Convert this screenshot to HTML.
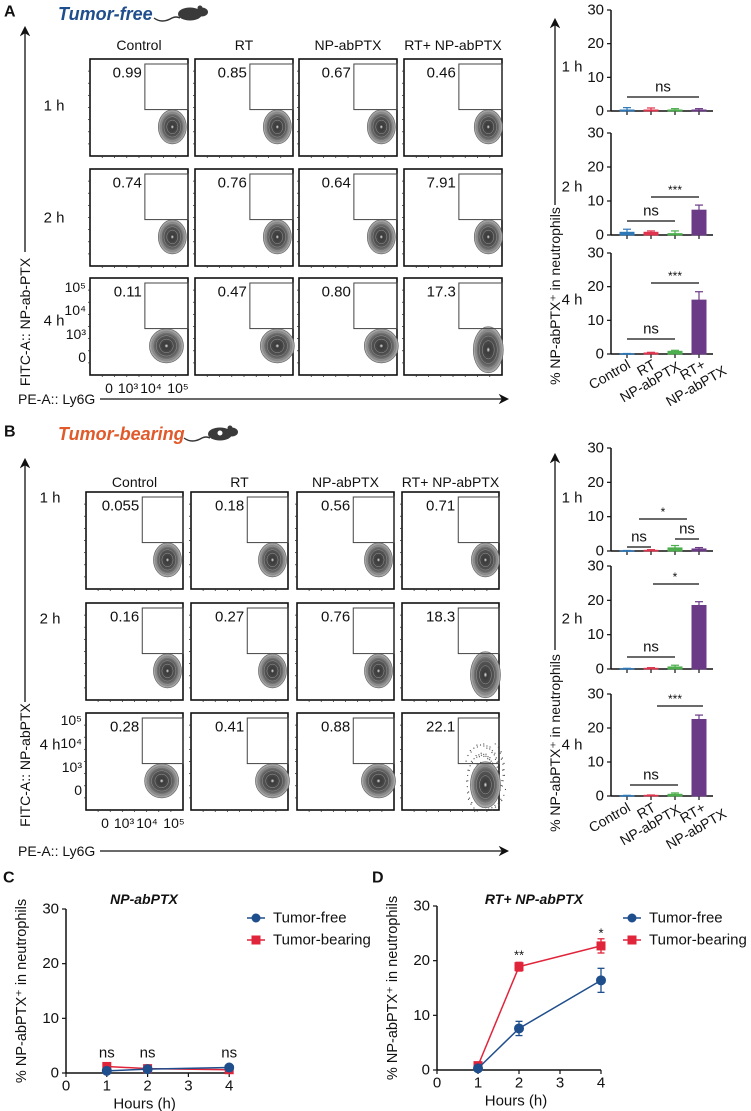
<!DOCTYPE html>
<html><head><meta charset="utf-8"><style>
html,body{margin:0;padding:0;background:#fff;}
svg{display:block;font-family:"Liberation Sans",Arial,sans-serif;}
</style></head><body>
<svg id="fig" width="751" height="1111" viewBox="0 0 751 1111" xmlns="http://www.w3.org/2000/svg">
<defs>
<marker id="arr" viewBox="0 0 10 10" refX="8" refY="5" markerWidth="8" markerHeight="8" orient="auto"><path d="M0,0 L10,5 L0,10 L3,5 z" fill="#111"/></marker>
<radialGradient id="cg" cx="0.5" cy="0.5" r="0.5"><stop offset="0" stop-color="#eee"/><stop offset="0.12" stop-color="#3a3a3a"/><stop offset="0.6" stop-color="#555"/><stop offset="0.85" stop-color="#888"/><stop offset="1" stop-color="#bbb"/></radialGradient>
</defs>
<g id="root"></g>
</svg>
<script>
// ---------- data ----------
const groups = ["Control","RT","NP-abPTX","RT+ NP-abPTX"];
const timeRows = ["1 h","2 h","4 h"];
const flowA = [["0.99","0.85","0.67","0.46"],["0.74","0.76","0.64","7.91"],["0.11","0.47","0.80","17.3"]];
const flowB = [["0.055","0.18","0.56","0.71"],["0.16","0.27","0.76","18.3"],["0.28","0.41","0.88","22.1"]];
const barColors = ["#2f78b7","#e0344e","#4cae4c","#6b3a87"];
const barsA_mean = [[0.3,0.3,0.3,0.3],[0.8,0.8,0.4,7.3],[0.05,0.3,0.8,16.0]];
const barsA_err  = [[0.7,0.6,0.4,0.4],[0.9,0.4,0.8,1.5],[0.1,0.2,0.3,2.5]];
const barsB_mean = [[0.05,0.2,0.9,0.6],[0.1,0.2,0.6,18.5],[0.1,0.2,0.5,22.5]];
const barsB_err  = [[0.1,0.2,0.7,0.4],[0.1,0.2,0.5,1.1],[0.1,0.1,0.4,1.3]];
const barTicks = [0,10,20,30];
const hours = [1,2,4];
const xTicks = [0,1,2,3,4];
const yTicks = [0,10,20,30];
const C_free = [0.4,0.7,1.0], C_free_err=[0.2,0.2,0.3];
const C_bear = [1.2,0.8,0.6], C_bear_err=[0.3,0.2,0.2];
const D_free = [0.3,7.6,16.4], D_free_err=[0.3,1.3,2.2];
const D_bear = [0.8,18.9,22.7], D_bear_err=[0.3,0.8,1.3];

const NS="http://www.w3.org/2000/svg";
const root=document.getElementById('root');
function mk(tag,attrs,parent,txt){const e=document.createElementNS(NS,tag);for(const k in attrs)e.setAttribute(k,attrs[k]);if(txt!==undefined)e.textContent=txt;(parent||root).appendChild(e);return e;}
function G(name,parent){const g=mk('g',{},parent);


return g;}
function T(x,y,s,opt,parent){opt=opt||{};const t=mk('text',{x:x,y:y,'font-size':opt.fs||14,'text-anchor':opt.a||'start',fill:opt.fill||'#111','font-weight':opt.fw||'normal','font-style':opt.fst||'normal','dominant-baseline':'central'},parent,s);if(opt.rot)t.setAttribute('transform',`rotate(${opt.rot} ${x} ${y})`);


return t;}
function L(x1,y1,x2,y2,parent,st,w,extra){const l=mk('line',{x1,y1,x2,y2,stroke:st||'#111','stroke-width':w||1.2},parent);if(extra)for(const k in extra)l.setAttribute(k,extra[k]);return l;}

function mouse(x,y,parent,spot){const g=G('mouse-icon',parent);
mk('path',{d:`M${x},${y+4} q8,6 18,0 q4,-2 8,0`,stroke:'#333',fill:'none','stroke-width':1.4},g);
mk('ellipse',{cx:x+36,cy:y,rx:12,ry:6.5,fill:'#3a3a3a'},g);
mk('ellipse',{cx:x+48,cy:y-2,rx:6,ry:4.5,fill:'#3a3a3a'},g);
mk('circle',{cx:x+46,cy:y-6,r:2.5,fill:'#3a3a3a'},g);
if(spot)mk('circle',{cx:x+36,cy:y-1,r:2.5,fill:'#fff'},g);}

// ---------- flow panels ----------
function flowPanel(P){
 const g=G(P.name);
 T(4,P.labelY,P.letter,{fs:16,fw:'bold',name:'panel-letter'},g);
 T(P.titleX,P.labelY+2,P.title,{fs:18,fw:'bold',fst:'italic',fill:P.titleColor,name:'group-title'},g);
 mouse(P.titleX+P.titleW+6,P.labelY+2,g,P.spot);
 L(25,P.yArrowBot,25,P.yArrowTop,g,'#111',1.3,{'marker-end':'url(#arr)'});
 T(25,P.yTextC,P.ylab,{fs:14,a:'middle',rot:-90,name:'flow-y-axis-title'},g);
 T(18,P.xArrowY,'PE-A:: Ly6G',{fs:14,name:'flow-x-axis-title'},g);
 L(100,P.xArrowY,507,P.xArrowY,g,'#111',1.3,{'marker-end':'url(#arr)'});
 groups.forEach((c,j)=>T(P.xs[j]+P.w/2,P.headY,c,{fs:14,a:'middle',name:'column-header'},g));
 timeRows.forEach((r,i)=>T(P.rowLabX,P.ys[i]+P.rowLabOff[i],r,{fs:15,a:'middle',name:'row-label'},g));
 P.vals.forEach((row,i)=>row.forEach((v,j)=>{
  const x=P.xs[j],y=P.ys[i],w=P.w,h=P.h;
  const b=G('flow-plot',g);
  mk('rect',{x,y,width:w,height:h,fill:'#fff',stroke:'#111','stroke-width':1.6},b);
  for(let k=1;k<8;k++){L(x,y+k*h/8,x-2,y+k*h/8,b,'#333',0.8);L(x+k*w/8,y+h,x+k*w/8,y+h+2,b,'#333',0.8);}
  const big=(i==2&&j==3)||(i==1&&j==3&&P.letter=='B');
  const cx=x+w*(j==3?0.86:(i==2&&j==0?0.78:0.84)), cy=y+h*(big?0.74:0.7);
  const rx=big?15:(i==2&&j<=2?17:14), ry=big?23:17;
  if(big&&P.letter=='B'&&i==2){for(let k=0;k<260;k++){const a=(k*137.5)%360*Math.PI/180,rr=((k*7)%19)/19;mk('circle',{cx:cx+Math.cos(a)*rx*1.5*rr,cy:cy-8+Math.sin(a)*ry*1.7*rr,r:0.6,fill:'#444'},b);}}
  mk('ellipse',{cx,cy,rx,ry,fill:'url(#cg)',stroke:'#666','stroke-width':0.7},b);
  for(let k=1;k<4;k++)mk('ellipse',{cx,cy,rx:rx*(1-k*0.2),ry:ry*(1-k*0.2),fill:'none',stroke:'#999','stroke-width':0.5},b);
  // gate
  const gx=x+w*P.gateL, gy=y+5, gh=h*0.47;
  mk('rect',{x:gx,y:gy,width:x+w-gx,height:gh,fill:'none',stroke:'#444','stroke-width':1},b);
  T(gx-3,y+14,v,{fs:15,a:'end',name:'gate-percentage'},b);
 }));
 const x0=P.xs[0], y2=P.ys[2];
 ['10⁵','10⁴','10³','0'].forEach((s,k)=>T(x0-4,y2+P.yTickOff[k],s,{fs:14,a:'end',name:'flow-y-tick'},g));
 ['0','10³','10⁴','10⁵'].forEach((s,k)=>T(x0+[19,38,61,88][k],P.ys[2]+P.h+13,s,{fs:14,a:'middle',name:'flow-x-tick'},g));
}
flowPanel({name:'panel-a-flow',letter:'A',labelY:12,title:'Tumor-free',titleX:58,titleW:90,titleColor:'#1f4e8c',spot:false,
 ylab:'FITC-A:: NP-ab-PTX',yArrowTop:28,yArrowBot:252,yTextC:322,xArrowY:399,
 xs:[90,195,299,404],ys:[59,169,278],w:98,h:97,headY:45,rowLabX:54,rowLabOff:[47,49,43],gateL:0.56,vals:flowA,yTickOff:[9,32,56,79]});
flowPanel({name:'panel-b-flow',letter:'B',labelY:432,title:'Tumor-bearing',titleX:58,titleW:120,titleColor:'#e05a2b',spot:true,
 ylab:'FITC-A:: NP-abPTX',yArrowTop:460,yArrowBot:702,yTextC:765,xArrowY:851,
 xs:[86,191,297,402],ys:[492,603,713],w:97,h:97,headY:482,rowLabX:50,rowLabOff:[6,16,32],gateL:0.58,vals:flowB,yTickOff:[7,30,54,77]});

// ---------- bar charts ----------
const barX = i => 627 + i*24;
function barChart(top,bottom,means,errs,sig,parent){
 const g=G('bar-chart',parent);
 const ys=v=>bottom-(v/30)*(bottom-top);
 L(611,top,611,bottom,g,'#111',1.5);L(611,bottom,713,bottom,g,'#111',1.5);
 barTicks.forEach(t=>{L(607,ys(t),611,ys(t),g,'#111',1.2);T(604,ys(t),String(t),{fs:15,a:'end',name:'bar-y-tick'},g);});
 means.forEach((m,i)=>{const x=barX(i);L(x,bottom,x,bottom+4,g,'#111',1.2);
  const r=mk('rect',{x:x-7,y:ys(m),width:14,height:Math.max(bottom-ys(m),0.5),fill:barColors[i],stroke:barColors[i]},g);
  
  
  const e=ys(m+errs[i]);L(x,ys(m),x,e,g,barColors[i],1.2);L(x-4,e,x+4,e,g,barColors[i],1.2);});
 sig.forEach(s=>{L(barX(s[0])+(s[3]||0),bottom-s[2],barX(s[1])+(s[4]||0),bottom-s[2],g,'#111',1.2);
  T((barX(s[0])+barX(s[1]))/2,bottom-s[2]-(s[5]=='ns'?10:7),s[5],{fs:s[5]=='ns'?15:12,a:'middle',name:'significance-label'},g);});
}
const gA=G('panel-a-bars');
barChart(10,111,barsA_mean[0],barsA_err[0],[[0,3,14,0,0,'ns']],gA);
barChart(133,235,barsA_mean[1],barsA_err[1],[[1,3,38,0,0,'***'],[0,2,14,0,0,'ns']],gA);
barChart(253,354,barsA_mean[2],barsA_err[2],[[1,3,71,0,0,'***'],[0,2,15,0,0,'ns']],gA);
L(555,205,555,20,gA,'#111',1.3,{'marker-end':'url(#arr)'});
T(555,296,'% NP-abPTX⁺ in neutrophils',{fs:14,a:'middle',rot:-90,name:'bar-y-axis-title'},gA);
[['1 h',67],['2 h',187],['4 h',300]].forEach(r=>T(572,r[1],r[0],{fs:15,a:'middle',name:'row-label'},gA));
const gB=G('panel-b-bars');
barChart(448,551,barsB_mean[0],barsB_err[0],[[0,3,32,12,-12,'*'],[0,1,4,0,0,'ns'],[2,3,12,0,0,'ns']],gB);
barChart(566,669,barsB_mean[1],barsB_err[1],[[1,3,85,2,0,'*'],[0,2,12,0,0,'ns']],gB);
barChart(694,796,barsB_mean[2],barsB_err[2],[[1,3,90,6,4,'***'],[0,2,11,3,3,'ns']],gB);
L(555,650,555,455,gB,'#111',1.3,{'marker-end':'url(#arr)'});
T(555,743,'% NP-abPTX⁺ in neutrophils',{fs:14,a:'middle',rot:-90,name:'bar-y-axis-title'},gB);
[['1 h',498],['2 h',619],['4 h',745]].forEach(r=>T(572,r[1],r[0],{fs:15,a:'middle',name:'row-label'},gB));
function catLabels(y,parent){
 const g=G('bar-x-labels',parent);
 T(barX(0)+2,y,'Control',{fs:14,a:'end',rot:-30,name:'category-label'},g);
 T(barX(1)+3,y,'RT',{fs:14,a:'end',rot:-30,name:'category-label'},g);
 T(barX(2)+4,y+2,'NP-abPTX',{fs:14,a:'end',rot:-30,name:'category-label'},g);
 T(barX(3)+5,y,'RT+',{fs:14,a:'end',rot:-30,name:'category-label'},g);
 T(barX(3)+26,y+6,'NP-abPTX',{fs:14,a:'end',rot:-30,name:'category-label'},g);
}
catLabels(363,gA);catLabels(806,gB);

// ---------- line charts ----------
function lineChart(P){
 const g=G(P.name);
 const xs=v=>P.x0+v*P.ux, ys=v=>P.y0-(v/30)*(P.y0-P.y30);
 T(P.letterX,878,P.letter,{fs:16,fw:'bold',name:'panel-letter'},g);
 T(P.titleX,899,P.title,{fs:14,fw:'bold',fst:'italic',a:'middle',name:'chart-title'},g);
 L(P.x0,P.y30,P.x0,P.y0,g,'#111',1.5);L(P.x0,P.y0,xs(4),P.y0,g,'#111',1.5);
 yTicks.forEach(t=>{L(P.x0-4,ys(t),P.x0,ys(t),g,'#111',1.2);T(P.x0-7,ys(t),String(t),{fs:15,a:'end',name:'y-tick'},g);});
 xTicks.forEach(t=>{L(xs(t),P.y0,xs(t),P.y0+4,g,'#111',1.2);T(xs(t),P.y0+13,String(t),{fs:15,a:'middle',name:'x-tick'},g);});
 T(xs(2)-3,P.y0+31,'Hours (h)',{fs:15,a:'middle',name:'x-axis-title'},g);
 T(P.x0-44,(P.y0+P.y30)/2,'% NP-abPTX⁺ in neutrophils',{fs:14.5,a:'middle',rot:-90,name:'y-axis-title'},g);
 const series=[[P.free,P.freeErr,'#1f4e8c','circle','tumor-free'],[P.bear,P.bearErr,'#e0243a','square','tumor-bearing']];
 series.slice().reverse().forEach(s=>{
  const sg=G('series-'+s[4],g);
  const pts=hours.map((h,i)=>xs(h)+','+ys(s[0][i])).join(' ');
  mk('polyline',{points:pts,fill:'none',stroke:s[2],'stroke-width':1.5},sg);
  hours.forEach((h,i)=>{const x=xs(h),y=ys(s[0][i]),e1=ys(s[0][i]+s[1][i]),e2=ys(s[0][i]-s[1][i]);
   L(x,e1,x,e2,sg,s[2],1.3);L(x-3.5,e1,x+3.5,e1,sg,s[2],1.3);L(x-3.5,e2,x+3.5,e2,sg,s[2],1.3);
   if(s[3]=='circle')mk('circle',{cx:x,cy:y,r:5,fill:s[2]},sg);else mk('rect',{x:x-4.5,y:y-4.5,width:9,height:9,fill:s[2]},sg);});
 });
 P.sig.forEach((s,i)=>{if(s)T(xs(hours[i]),P.sigY[i],s,{fs:s=='ns'?15:13,a:'middle',name:'significance-label'},g);});
 const lg=G('legend',g);
 [['Tumor-free','#1f4e8c','circle',918],['Tumor-bearing','#e0243a','square',940]].forEach(e=>{
  const eg=G('legend-entry',lg);
  L(P.legX-9,e[3],P.legX+9,e[3],eg,e[1],1.5);
  if(e[2]=='circle')mk('circle',{cx:P.legX,cy:e[3],r:4.5,fill:e[1]},eg);else mk('rect',{x:P.legX-4.5,y:e[3]-4.5,width:9,height:9,fill:e[1]},eg);
  T(P.legX+17,e[3],e[0],{fs:15,name:'legend-label'},eg);});
}
lineChart({name:'panel-c',letter:'C',letterX:3,title:'NP-abPTX',titleX:144,x0:66,ux:40.8,y0:1073,y30:909,
 free:C_free,freeErr:C_free_err,bear:C_bear,bearErr:C_bear_err,sig:['ns','ns','ns'],sigY:[1053,1053,1053],legX:256});
lineChart({name:'panel-d',letter:'D',letterX:372,title:'RT+ NP-abPTX',titleX:534,x0:437,ux:41,y0:1070,y30:906,
 free:D_free,freeErr:D_free_err,bear:D_bear,bearErr:D_bear_err,sig:[null,'**','*'],sigY:[0,955,933],legX:632});
</script>
</body></html>
